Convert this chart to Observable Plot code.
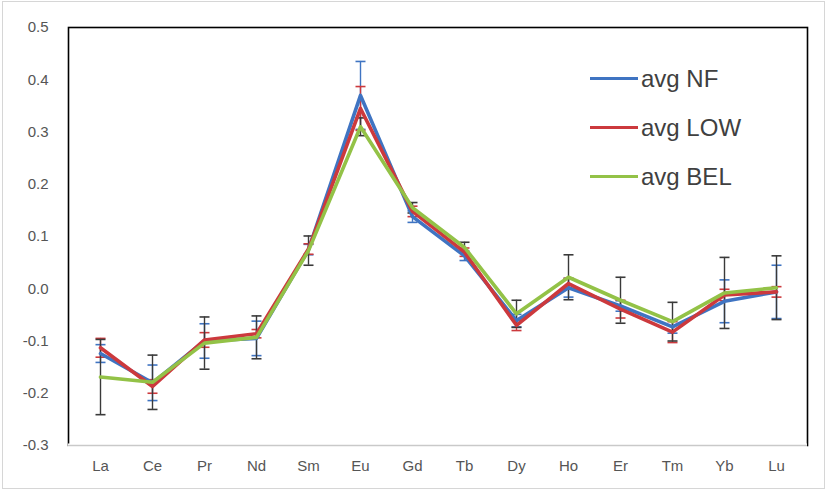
<!DOCTYPE html>
<html>
<head>
<meta charset="utf-8">
<script src="https://cdn.jsdelivr.net/npm/d3@7"></script>
<script src="https://cdn.jsdelivr.net/npm/@observablehq/plot@0.6"></script>
<style>
  body { margin: 0; background: #fff; }
  #wrap { position: relative; width: 827px; height: 499px; font-family: "Liberation Sans", Arial, sans-serif; }
  #border { position: absolute; left: 2px; top: 1px; width: 821px; height: 486px; border: 1px solid #d6d6d6; pointer-events: none; }
  #legend { position: absolute; left: 590px; top: 54px; }
  .item { display: flex; align-items: center; height: 49px; }
  .swatch { width: 48px; height: 3.5px; margin-right: 3px; }
  .label { font-size: 24px; color: #404040; line-height: 1; }
  #chart svg { display: block; }
</style>
</head>
<body>
<div id="wrap">
  <div id="chart"></div>
  <div id="border"></div>
  <div id="legend"></div>
</div>
<script>
const elements = ["La","Ce","Pr","Nd","Sm","Eu","Gd","Tb","Dy","Ho","Er","Tm","Yb","Lu"];

const seriesNames = ["avg NF", "avg LOW", "avg BEL"];

const avgNF   = [-0.124, -0.180, -0.100, -0.095, 0.075, 0.370, 0.138, 0.063, -0.061, 0.002, -0.033, -0.073, -0.024, -0.006];
const errNF   = [ 0.017,  0.034,  0.033,  0.033, 0.010, 0.065, 0.011, 0.009,  0.012, 0.018,  0.010,  0.012,  0.041,  0.051];

const avgLOW  = [-0.113, -0.187, -0.098, -0.086, 0.076, 0.345, 0.148, 0.070, -0.070, 0.010, -0.039, -0.083, -0.012, -0.006];
const errLOW  = [ 0.018,  0.013,  0.014,  0.008, 0.010, 0.042, 0.010, 0.008,  0.010, 0.010,  0.017,  0.020,  0.011,  0.010];

const avgBEL  = [-0.169, -0.179, -0.104, -0.093, 0.073, 0.310, 0.155, 0.079, -0.048, 0.022, -0.022, -0.063, -0.008,  0.002];
const errBEL  = [ 0.072,  0.052,  0.050,  0.041, 0.028, 0.017, 0.010, 0.010,  0.026, 0.043,  0.044,  0.037,  0.068,  0.061];

const yTicks = [-0.3, -0.2, -0.1, 0.0, 0.1, 0.2, 0.3, 0.4, 0.5];

const lineColors = ["#3f74c2", "#cc393d", "#93c247"];
const errColors  = ["#3f74c2", "#cc393d", "#3a3a3a"];

const values = [avgNF, avgLOW, avgBEL];
const errors = [errNF, errLOW, errBEL];

const rows = [];
seriesNames.forEach((s, k) => {
  elements.forEach((el, i) => {
    rows.push({series: s, k, el, v: values[k][i], e: errors[k][i]});
  });
});

// horizontal cap symbol for error bars
const capSymbol = {
  draw(ctx) { ctx.moveTo(-5, 0); ctx.lineTo(5, 0); }
};

const marks = [
  Plot.frame({stroke: "#000", strokeWidth: 1.6}),
  Plot.ruleY([-0.3], {stroke: "#fff", strokeWidth: 4}),
  Plot.ruleY([-0.3], {stroke: "#c9c9c9", strokeWidth: 1.5})
];

seriesNames.forEach((s, k) => {
  const d = rows.filter(r => r.k === k);
  marks.push(
    Plot.ruleX(d, {x: "el", y1: r => r.v - r.e, y2: r => r.v + r.e, stroke: errColors[k], strokeWidth: 1.4}),
    Plot.dot(d, {x: "el", y: r => r.v + r.e, symbol: capSymbol, fill: "none", stroke: errColors[k], strokeWidth: 1.6, r: 5}),
    Plot.dot(d, {x: "el", y: r => r.v - r.e, symbol: capSymbol, fill: "none", stroke: errColors[k], strokeWidth: 1.6, r: 5})
  );
});
seriesNames.forEach((s, k) => {
  const d = rows.filter(r => r.k === k);
  marks.push(
    Plot.line(d, {x: "el", y: "v", stroke: lineColors[k], strokeWidth: 3.6, strokeLinejoin: "round"})
  );
});

const chart = Plot.plot({
  width: 827,
  height: 499,
  marginTop: 27,
  marginBottom: 54,
  marginLeft: 68,
  marginRight: 20,
  style: {fontSize: "15px", fontFamily: "'Liberation Sans', Arial, sans-serif", color: "#555", background: "transparent"},
  x: {type: "point", domain: elements, padding: 0.5, tickSize: 0, tickPadding: 15, label: null},
  y: {domain: [-0.3, 0.5], ticks: yTicks, tickFormat: d => d.toFixed(1), tickSize: 0, tickPadding: 20, label: null},
  marks
});
document.getElementById("chart").appendChild(chart);

const legend = document.getElementById("legend");
seriesNames.forEach((s, k) => {
  const item = document.createElement("div");
  item.className = "item";
  const sw = document.createElement("div");
  sw.className = "swatch";
  sw.style.background = lineColors[k];
  const lab = document.createElement("div");
  lab.className = "label";
  lab.textContent = s;
  item.appendChild(sw);
  item.appendChild(lab);
  legend.appendChild(item);
});
</script>
</body>
</html>
